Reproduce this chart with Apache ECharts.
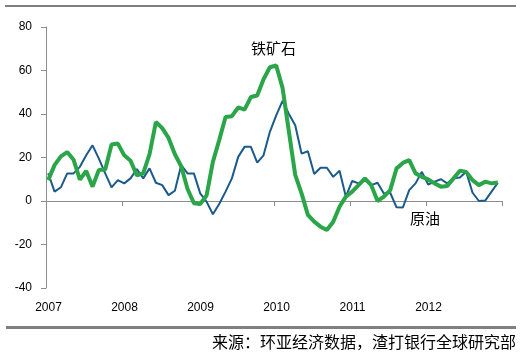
<!DOCTYPE html>
<html><head><meta charset="utf-8">
<script src="https://cdn.jsdelivr.net/npm/echarts@6/dist/echarts.min.js"></script>
<style>html,body{margin:0;padding:0;background:#fff}#c{width:523px;height:357px}</style>
</head><body><div id="c"></div>
<script>
var years = ['2007','2008','2009','2010','2011','2012'];
var yTicks = [-40,-20,0,20,40,60,80];
// monthly, Jan 2007 - Dec 2012
var ironOre = [9.6,16.5,20.5,22.5,19,9.8,13.8,6.6,14.3,14.5,26,26.4,
  21,18.5,11.8,12.7,21.5,36.3,33.5,29,21.5,16,5.5,-1,
  -1.4,2.5,18,28,38.6,39,43,42,47.8,48.5,56,61.5,
  62.3,52,32,12,3.5,-6.4,-9.5,-11.8,-13.3,-9.5,-2.6,2,
  4.3,7.3,10.4,7.3,0,2,5,15,17.5,18.8,12.7,11.1,
  9.9,8.1,6.6,6.9,10.4,13.9,13.4,9.6,7.3,8.9,8.1,8.5];
var crudeOil = [12.7,4.3,6.3,12.7,12.7,15.7,21,25.6,19.5,12.7,6.3,9.6,
  8.1,10.4,14.7,10.4,15,8.4,7.3,2.7,4.7,16.5,12.7,12.7,
  3.5,-0.3,-6.1,-1.4,4.3,10.4,20.3,24.9,24.9,17.6,21,31.8,
  39.4,46,40,34.8,21.8,22.9,12.4,15.3,15.3,11.1,13.9,2,
  9.2,8.1,9.6,7.3,8.4,3.5,3.8,-2.9,-3,5,8.1,13.4,
  7.6,8.9,10,8.1,10.4,10.8,13.4,3.8,0,0.2,4.3,8.4];
var labelIron = '铁矿石';
var labelOil = '原油';
var sourceText = '来源：环亚经济数据，渣打银行全球研究部';

function toXY(arr){ return arr.map(function(v,i){ return [i+0.35, v]; }); }

var chart = echarts.init(document.getElementById('c'), null, {renderer:'canvas'});
chart.setOption({
  animation:false,
  grid:{left:46, right:21, top:27, bottom:69},
  xAxis:[{
    type:'value', min:0, max:72, interval:12, position:'top',
    axisLine:{show:true, onZero:true, lineStyle:{color:'#8c8c8c', width:1}},
    axisTick:{show:true, inside:true, length:5, lineStyle:{color:'#8c8c8c'}},
    axisLabel:{show:false}, splitLine:{show:false}
  },{
    type:'value', min:0, max:72, interval:12, position:'bottom',
    axisLine:{show:false, onZero:false}, axisTick:{show:false}, splitLine:{show:false},
    axisLabel:{show:true, margin:14, color:'#000', fontFamily:'Liberation Sans', fontSize:12,
      formatter:function(v){ var k=Math.round(v/12); return (k<years.length)? years[k] : ''; },
      padding:[0,0,0,5]}
  }],
  yAxis:{
    type:'value', min:-40, max:80, interval:20,
    axisLine:{show:true, lineStyle:{color:'#8c8c8c', width:1}},
    axisTick:{show:true, length:5, lineStyle:{color:'#8c8c8c'}},
    axisLabel:{margin:14, color:'#000', fontFamily:'Liberation Sans', fontSize:12,
      formatter:function(v){ return yTicks.indexOf(v)>=0 ? String(v) : ''; }},
    splitLine:{show:false}
  },
  series:[{
    name:labelOil, type:'line', xAxisIndex:0, data:toXY(crudeOil), symbol:'none',
    lineStyle:{color:'#1b5a8a', width:2}
  },{
    name:labelIron, type:'line', xAxisIndex:0, data:toXY(ironOre), symbol:'none',
    lineStyle:{color:'#2aa548', width:4}
  }],
  graphic:[
    {type:'rect', shape:{x:5, y:5, width:511, height:2}, style:{fill:'#7f7f7f'}},
    {type:'rect', shape:{x:6, y:326, width:510, height:3}, style:{fill:'#7f7f7f'}},
    {type:'text', left:251, top:41, style:{text:labelIron, fontSize:15, fill:'#000', fontFamily:'Noto Sans CJK SC'}},
    {type:'text', left:410, top:211, style:{text:labelOil, fontSize:15, fill:'#000', fontFamily:'Noto Sans CJK SC'}},
    {type:'text', right:7, top:334, style:{text:sourceText, fontSize:16, fill:'#000', fontFamily:'Noto Sans CJK SC'}}
  ]
});
</script></body></html>
